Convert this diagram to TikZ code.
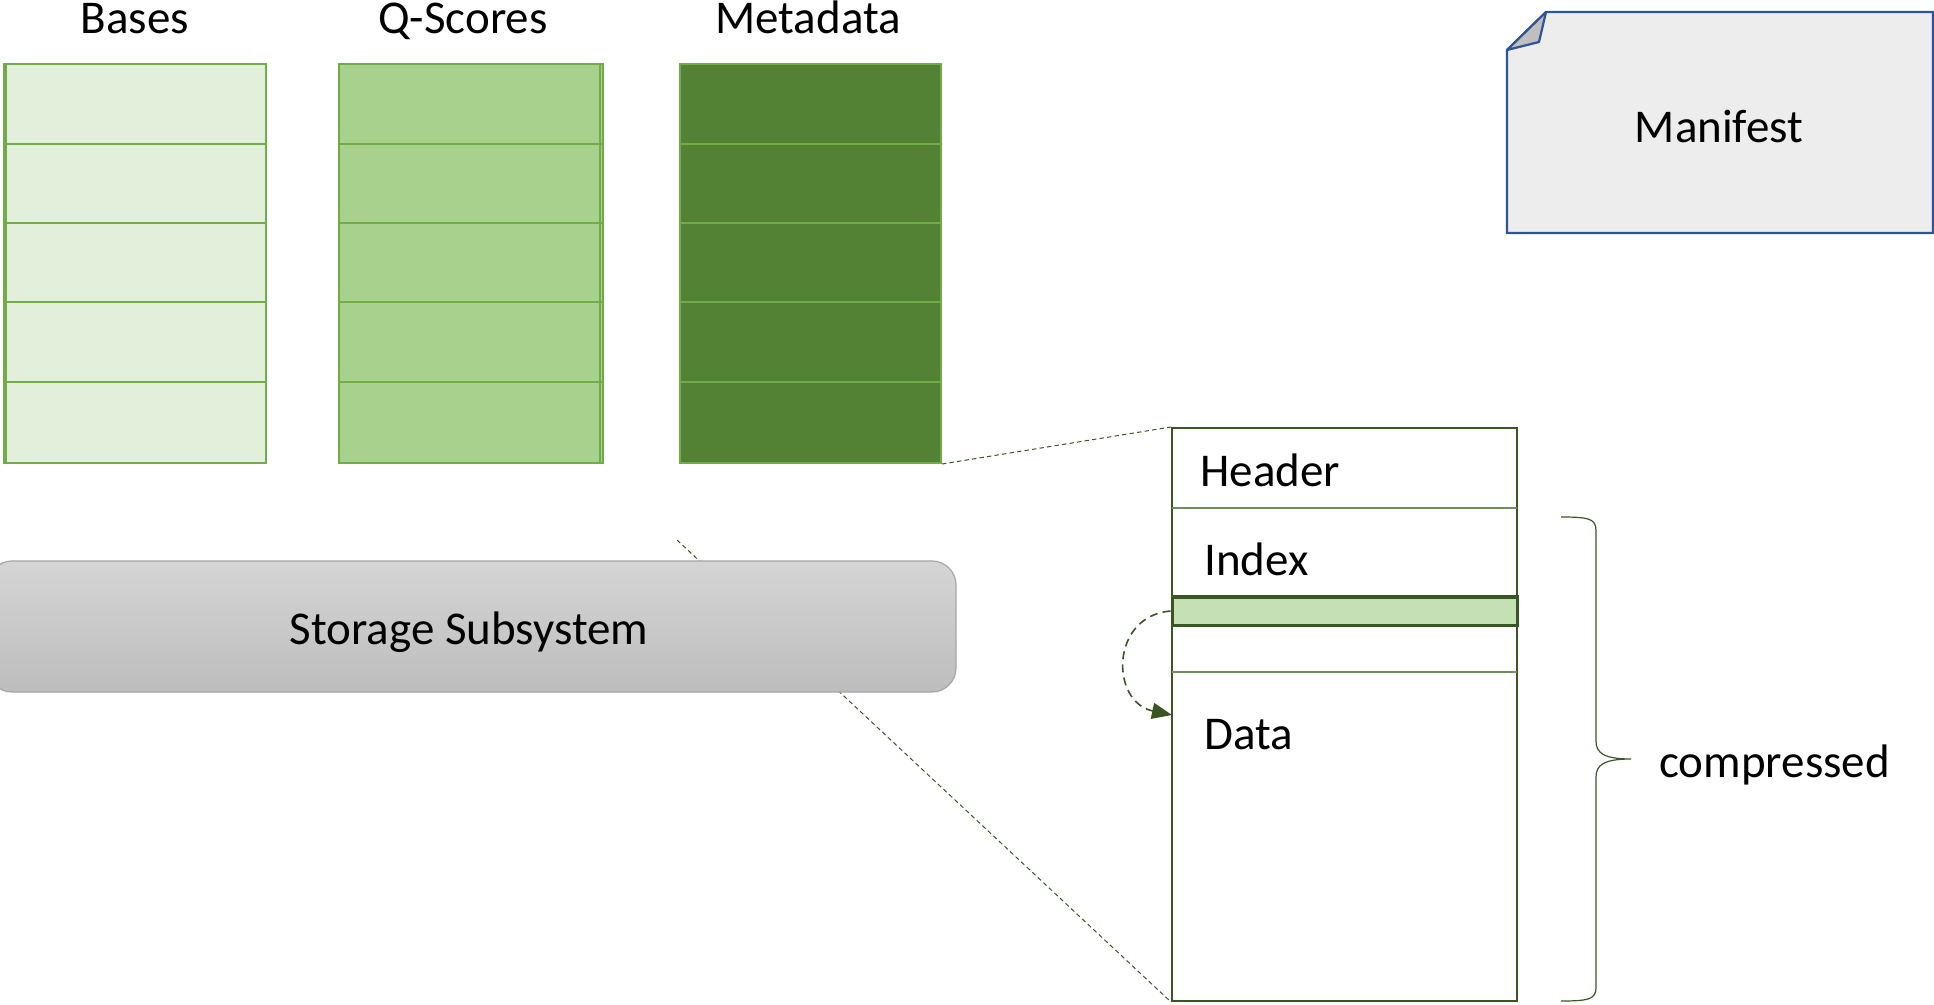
\documentclass[tikz,border=0pt]{standalone}
\usepackage{fontspec}
\setmainfont{Carlito}
\usetikzlibrary{arrows.meta}

\definecolor{basefill}{HTML}{E2EFDA}
\definecolor{qfill}{HTML}{A9D18E}
\definecolor{metafill}{HTML}{548235}
\definecolor{colline}{HTML}{70AD47}
\definecolor{darkgreen}{HTML}{385723}
\definecolor{sepgreen}{HTML}{6C8E5A}
\definecolor{barfill}{HTML}{C5E0B4}
\definecolor{manfill}{HTML}{EDEDED}
\definecolor{manline}{HTML}{2F5597}
\definecolor{foldfill}{HTML}{BFBFBF}
\definecolor{storetop}{HTML}{D5D5D5}
\definecolor{storebot}{HTML}{BDBDBD}
\definecolor{storeline}{HTML}{A6A6A6}

\tikzset{
  colbox/.style={draw=colline, line width=1pt, rectangle, inner sep=0pt,
                 minimum height=199.5pt},
  rowline/.style={draw=colline, line width=0.9pt},
  title/.style={anchor=base, inner sep=0pt},
  leader/.style={draw=darkgreen, line width=0.5pt, dash pattern=on 2.2pt off 1.6pt},
  jump/.style={draw=darkgreen, line width=0.8pt, dash pattern=on 4pt off 2.6pt,
               -{Triangle[length=10pt,width=8pt]}},
  recbox/.style={draw=darkgreen, line width=1pt, rectangle, inner sep=0pt},
  sepline/.style={draw=sepgreen, line width=0.6pt},
  celltext/.style={anchor=base west, inner sep=0pt},
  storage/.style={rectangle, rounded corners=12pt, draw=storeline, line width=0.6pt,
                  top color=storetop, bottom color=storebot,
                  minimum width=484pt, minimum height=65.5pt, inner sep=0pt},
  bracket/.style={draw=darkgreen, line width=0.6pt},
}

\begin{document}
\begin{tikzpicture}[x=0.5pt, y=-0.5pt, font=\fontsize{23.5}{28}\selectfont]
\useasboundingbox (0,0) rectangle (1934,1005);

% three stacked columns
\node[colbox, fill=basefill, minimum width=131pt]  (bases) at (135,263.5) {};
\node[colbox, fill=qfill,    minimum width=132pt]  (qs)    at (471,263.5) {};
\node[colbox, fill=metafill, minimum width=130.5pt] (meta) at (810.5,263.5) {};
\foreach \y in {144,223,302,382} {
  \draw[rowline] (4,\y) -- (266,\y);
  \draw[rowline] (339,\y) -- (603,\y);
  \draw[rowline] (680,\y) -- (941,\y);
}
\draw[colline, line width=1pt] (6,64) -- (6,463);
\draw[colline, line width=1pt] (600,64) -- (600,463);

\node[title] (tbases) at (135,34) {Bases};
\node[title] (tqs)    at (463,34) {Q-Scores};
\node[title] (tmeta)  at (808,34) {Metadata};

% manifest sheet with folded corner
\draw[fill=manfill, draw=manline, line width=1.1pt]
  (1507,50) -- (1546,12) -- (1933,12) -- (1933,233) -- (1507,233) -- cycle;
\draw[fill=foldfill, draw=manline, line width=1.1pt, line join=round]
  (1507,50) -- (1546,12) -- (1539,42) -- cycle;
\node[anchor=base, inner sep=0pt] (manifest) at (1719,143) {Manifest};

% block layout
\node[recbox, minimum width=172.5pt, minimum height=286.5pt] (rec) at (1344.5,714.5) {};
\draw[sepline] (1172,508) -- (1517,508);
\draw[sepline] (1172,672) -- (1517,672);
\node[rectangle, draw=darkgreen, line width=1.5pt, fill=barfill, inner sep=0pt,
      minimum width=172.5pt, minimum height=14pt] (bar) at (1344.5,611) {};
\node[celltext] (header) at (1200,487) {Header};
\node[celltext] (index)  at (1204,575) {Index};
\node[celltext] (data)   at (1204,749) {Data};

% zoom leaders
\coordinate (lstart) at (677,540);
\draw[leader] (lstart) -- (rec.south west);
\draw[leader] (meta.south east) -- (rec.north west);

% storage subsystem bar
\node[storage] (storage) at (472,626.5) {};
\node[anchor=base, inner sep=0pt] (storagetext) at (469,645) {Storage Subsystem};

% index entry pointing into the data
\coordinate (dataIn) at (1172,715);
\draw[jump] (bar.west) .. controls (1110,616) and (1110,702) .. (dataIn);

% compressed region brace
\coordinate (btop) at (1561,517);
\coordinate (btip) at (1631,759);
\coordinate (bbot) at (1561,1001);
\draw[bracket] (btop) .. controls (1590,517) and (1596,519) .. (1596,531)
  -- (1596,741) .. controls (1596,753) and (1604,759) .. (btip)
  .. controls (1604,759) and (1596,765) .. (1596,777)
  -- (1596,987) .. controls (1596,999) and (1590,1001) .. (bbot);
\node[anchor=base west, inner sep=0pt] (compressed) at (1659,777) {compressed};
\end{tikzpicture}
\end{document}
